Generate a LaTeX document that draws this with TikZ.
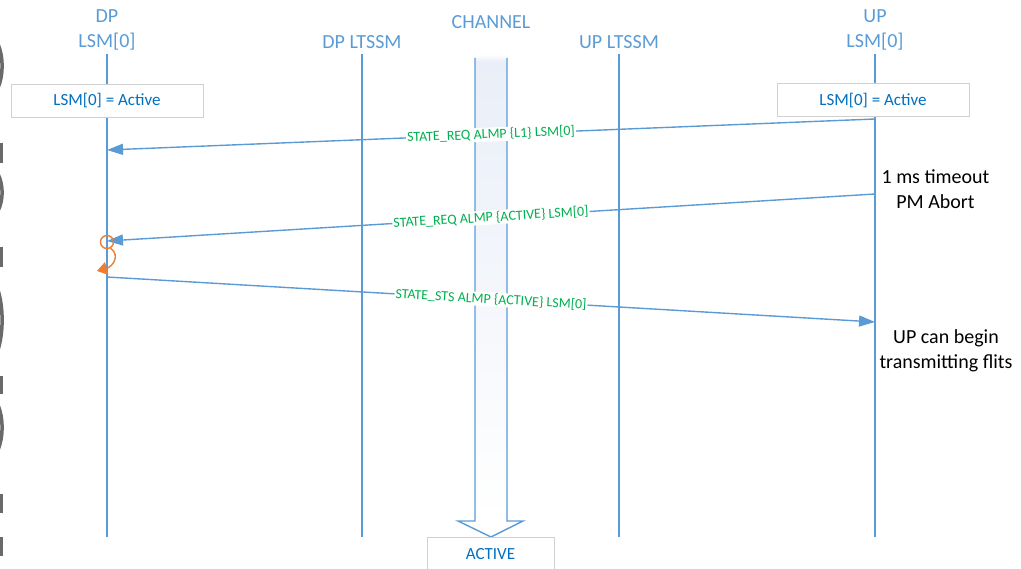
\documentclass[tikz,border=0pt]{standalone}
\usepackage{fontspec}
\setmainfont{Carlito}
\usetikzlibrary{arrows.meta,positioning,calc}
\definecolor{life}{HTML}{5B9BD5}
\definecolor{stateink}{HTML}{0070C0}
\definecolor{almpgreen}{HTML}{00B050}
\definecolor{boxline}{HTML}{D0D0D0}
\definecolor{chanfill}{HTML}{E9EEF8}
\definecolor{abort}{HTML}{ED7D31}
\definecolor{edgegray}{HTML}{6A6A6A}
\tikzset{
  head/.style={text=life,font=\fontsize{20}{25}\selectfont,inner sep=0pt,align=center},
  lifeline/.style={draw=life,line width=1.4pt},
  statebox/.style={draw=boxline,fill=white,line width=1pt,minimum width=192pt,minimum height=33pt,inner sep=0pt,font=\fontsize{17}{20}\selectfont,text=stateink},
  msg/.style={-{Triangle[length=16pt,width=11pt]},draw=life,line width=1.4pt},
  almp/.style={sloped,fill=white,inner sep=1pt,font=\fontsize{14}{16}\selectfont,text=almpgreen},
  note/.style={font=\fontsize{20}{25}\selectfont,align=center,inner sep=0pt},
  abortflow/.style={-{Triangle[length=10pt,width=13pt]},draw=abort,line width=1.4pt}
}
\begin{document}
\begin{tikzpicture}[x=1pt,y=-1pt]
    \useasboundingbox (0,0) rectangle (1021,569);

    % cut-off shapes at the left edge
    \foreach \ya/\yb in {44/88,174/211,290/350,405/450}
      \draw[edgegray,line width=3.5pt] (-2,\ya) .. controls (3.5,{\ya+0.3*(\yb-\ya)}) and (3.5,{\yb-0.3*(\yb-\ya)}) .. (-2,\yb);
    \foreach \ya/\yb in {143/163,247/267,376/394,494/513,537/556}
      \fill[edgegray] (0,\ya) rectangle (2.5,\yb);

    % lifeline heads
    \node[head] (dp) at (107,29.5) {DP\\LSM[0]};
    \node[head] (dpltssm) at (362,42) {DP LTSSM};
    \node[head] (chan) at (491,22) {CHANNEL};
    \node[head] (upltssm) at (619,42) {UP LTSSM};
    \node[head] (up) at (875,29.5) {UP\\LSM[0]};

    \coordinate (dptop) at (107,54);   \coordinate (dpbot) at (107,537);
    \coordinate (dlttop) at (362,54);  \coordinate (dltbot) at (362,537);
    \coordinate (ulttop) at (619,54);  \coordinate (ultbot) at (619,537);
    \coordinate (uptop) at (875,54);   \coordinate (upbot) at (875,537);
    \draw[lifeline] (dptop) -- (dpbot);
    \draw[lifeline] (dlttop) -- (dltbot);
    \draw[lifeline] (ulttop) -- (ultbot);
    \draw[lifeline] (uptop) -- (upbot);

    % channel
    \shade[top color=chanfill,bottom color=white] (475,58) rectangle (507,521);
    \shade[top color=white,bottom color=chanfill] (475,54) rectangle (507,62);
    \draw[draw=life,line width=1.4pt,line join=miter] (475,58) -- (475,521) -- (458,521) -- (491,537) -- (523,521) -- (507,521) -- (507,58);
    \node[draw=boxline,fill=white,line width=1pt,anchor=north,minimum width=127pt,minimum height=34pt,inner sep=0pt,font=\fontsize{17}{20}\selectfont,text=stateink] (active) at (490.5,537) {ACTIVE};

    % state boxes
    \node[statebox] (dpstate) at (107,101) {LSM[0] = Active};
    \node[statebox] (upstate) at (873,100.5) {LSM[0] = Active};

    % messages
    \coordinate (r1) at (875,119);  \coordinate (l1) at (107,150);
    \coordinate (r2) at (875,194);  \coordinate (l2) at (107,241);
    \coordinate (l3) at (107,277);  \coordinate (r3) at (875,322);
    \draw[msg] (r1) -- node[almp]{STATE\_REQ ALMP \{L1\} LSM[0]} (l1);
    \draw[msg] (r2) -- node[almp]{STATE\_REQ ALMP \{ACTIVE\} LSM[0]} (l2);
    \draw[msg] (l3) -- node[almp]{STATE\_STS ALMP \{ACTIVE\} LSM[0]} (r3);

    % PM abort on DP side
    \node[circle,draw=abort,line width=1.4pt,minimum size=13pt,inner sep=0pt] (pmabort) at (107,242) {};
    \coordinate (aborttip) at (97,271);
    \draw[abortflow] (pmabort.-60) .. controls (121,256) and (112,267) .. (aborttip);

    % notes
    \node[note] (timeout) at (935.5,189.5) {1 ms timeout\\PM Abort};
    \node[note] (upflits) at (946,350.5) {UP can begin\\transmitting flits};
  \end{tikzpicture}
\end{document}
